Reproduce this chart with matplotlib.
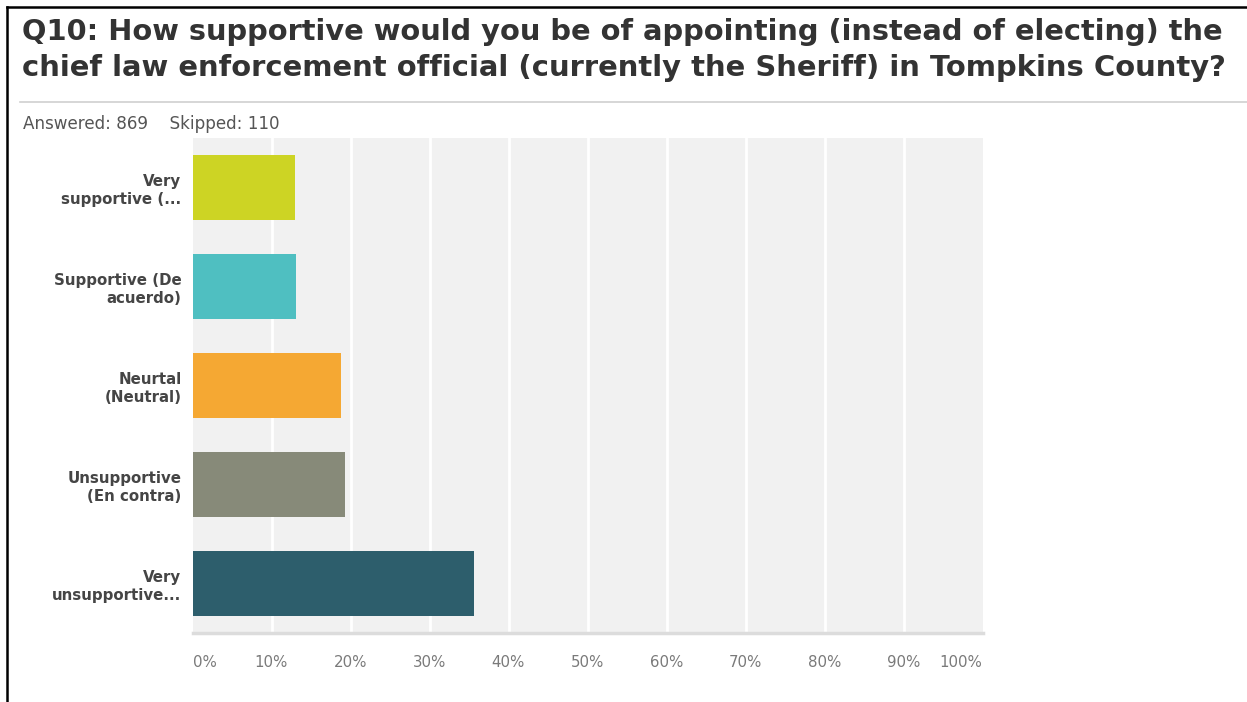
import matplotlib
matplotlib.use("Agg")
import matplotlib.pyplot as plt
from matplotlib.lines import Line2D
import numpy as np

# ---- data ----
categories = [
    "Very\nsupportive (...",
    "Supportive (De\nacuerdo)",
    "Neurtal\n(Neutral)",
    "Unsupportive\n(En contra)",
    "Very\nunsupportive...",
]
values = [13.0, 13.1, 18.8, 19.3, 35.6]
colors = ["#cdd424", "#4fbfc1", "#f5a833", "#878a79", "#2d5e6c"]
xticks = [0, 10, 20, 30, 40, 50, 60, 70, 80, 90, 100]
xtick_labels = ["0%", "10%", "20%", "30%", "40%", "50%", "60%", "70%", "80%", "90%", "100%"]
title_lines = [
    "Q10: How supportive would you be of appointing (instead of electing) the",
    "chief law enforcement official (currently the Sheriff) in Tompkins County?",
]
subtitle = "Answered: 869    Skipped: 110"

W, H = 1247, 702
DPI = 100
plt.rcParams["font.family"] = ["DejaVu Sans"]
fig = plt.figure(figsize=(W / DPI, H / DPI), dpi=DPI)
fig.patch.set_facecolor("white")


def px(x, y):
    return x / W, 1 - y / H


# axes
left, right, top, bottom = 192.5, 982.5, 138, 633
ax = fig.add_axes([left / W, 1 - bottom / H, (right - left) / W, (bottom - top) / H])
ax.set_facecolor("#f1f1f1")
ypos = np.arange(len(categories))
ax.barh(ypos, values, height=0.665, color=colors, zorder=3)
ax.set_xlim(0, 100)
ax.set_ylim(len(categories) - 0.5, -0.5)
for g in xticks[1:-1]:
    ax.axvline(g, color="white", lw=2.0, zorder=1)
ax.set_xticks(xticks)
ax.set_xticklabels(xtick_labels, color="#7a7a7a", fontsize=10.8)
for i, t in enumerate(ax.get_xticklabels()):
    if i == 0:
        t.set_ha("left")
    elif i == len(xticks) - 1:
        t.set_ha("right")
ax.tick_params(axis="x", length=0, pad=16)
ax.set_yticks(ypos)
ax.set_yticklabels(categories, fontsize=10.8, fontweight="bold", color="#454545",
                   linespacing=1.25)
ax.tick_params(axis="y", length=0, pad=8)
for s in ["top", "left", "right"]:
    ax.spines[s].set_visible(False)
ax.spines["bottom"].set_color("#dcdcdc")
ax.spines["bottom"].set_linewidth(2.5)

# title and texts
renderer = fig.canvas.get_renderer()


def fit_text(x, y, s, target_w, **kw):
    t = fig.text(*px(x, y), s, fontsize=10, va="baseline", ha="left", **kw)
    w = t.get_window_extent(renderer).width
    t.set_fontsize(10 * target_w / w)
    return t


fit_text(22, 40, title_lines[0], 1203, fontweight="bold", color="#333333")
fit_text(22, 76, title_lines[1], 1203, fontweight="bold", color="#333333")
fit_text(23, 129, subtitle, 256, color="#555555")

# separator line and frame
fig.add_artist(Line2D([20 / W, 1], [1 - 102 / H] * 2, color="#d0d0d0", lw=1.2))
fig.add_artist(Line2D([7 / W, 1], [1 - 7 / H] * 2, color="black", lw=1.8))
fig.add_artist(Line2D([7 / W, 7 / W], [0, 1 - 7 / H], color="black", lw=1.8))

fig.savefig("out.png", dpi=DPI)
